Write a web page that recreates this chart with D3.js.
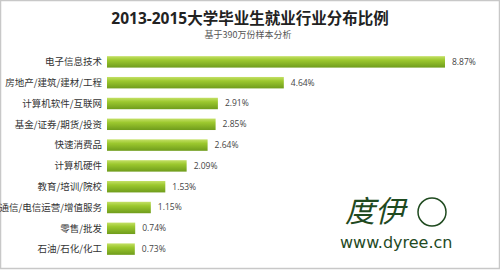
<!DOCTYPE html>
<html>
<head>
<meta charset="utf-8">
<script src="https://cdn.jsdelivr.net/npm/d3@7"></script>
<style>
  body { margin: 0; background: #fff; }
  svg { display: block; font-family: "Noto Sans CJK SC", "Noto Sans", sans-serif; }
</style>
</head>
<body>
<div id="chart"></div>
<script>
const categories = ["电子信息技术", "房地产/建筑/建材/工程", "计算机软件/互联网", "基金/证券/期货/投资",
  "快速消费品", "计算机硬件", "教育/培训/院校", "通信/电信运营/增值服务", "零售/批发", "石油/石化/化工"];
const values = [8.87, 4.64, 2.91, 2.85, 2.64, 2.09, 1.53, 1.15, 0.74, 0.73];
const title = "2013-2015大学毕业生就业行业分布比例";
const subtitle = "基于390万份样本分析";

const width = 500, height = 271;
const margin = {left: 107, right: 55, top: 52, bottom: 12};

const svg = d3.select("#chart").append("svg")
  .attr("width", width).attr("height", height);

// bar gradient
const grad = svg.append("defs").append("linearGradient")
  .attr("id", "barGrad").attr("x1", 0).attr("y1", 0).attr("x2", 0).attr("y2", 1);
grad.append("stop").attr("offset", "0%").attr("stop-color", "#c4e066");
grad.append("stop").attr("offset", "35%").attr("stop-color", "#9cc82e");
grad.append("stop").attr("offset", "100%").attr("stop-color", "#6f9c1c");

// frame
svg.append("rect").attr("x", 0.5).attr("y", 0.5)
  .attr("width", width - 1).attr("height", height - 3)
  .attr("fill", "none").attr("stroke", "#c8c8c8").attr("stroke-width", 1.5);

svg.append("text").attr("x", 250).attr("y", 24).attr("text-anchor", "middle")
  .attr("font-size", 15.5).attr("font-weight", "bold").attr("fill", "#222")
  .attr("font-family", "'Open Sans', 'Noto Sans CJK SC', sans-serif")
  .text(title);
svg.append("text").attr("x", 248).attr("y", 38).attr("text-anchor", "middle")
  .attr("font-size", 9).attr("fill", "#555").text(subtitle);

const x = d3.scaleLinear().domain([0, 8.87]).range([margin.left, 445]);
const y = d3.scaleBand().domain(categories)
  .range([margin.top, 259]).paddingInner(0.45).paddingOuter(0.2);

const g = svg.append("g");

g.selectAll("rect.bar").data(categories).enter().append("rect")
  .attr("class", "bar")
  .attr("x", x(0))
  .attr("y", d => y(d))
  .attr("width", (d, i) => x(values[i]) - x(0))
  .attr("height", y.bandwidth())
  .attr("fill", "url(#barGrad)");

g.selectAll("text.cat").data(categories).enter().append("text")
  .attr("class", "cat")
  .attr("x", 102)
  .attr("y", d => y(d) + y.bandwidth() / 2)
  .attr("dy", "0.35em")
  .attr("text-anchor", "end")
  .attr("font-size", 9.5).attr("fill", "#333")
  .text(d => d);

g.selectAll("text.val").data(categories).enter().append("text")
  .attr("class", "val")
  .attr("x", (d, i) => x(values[i]) + 7)
  .attr("y", d => y(d) + y.bandwidth() / 2)
  .attr("dy", "0.35em")
  .attr("font-size", 8.5).attr("fill", "#444")
  .attr("font-family", "'Open Sans', sans-serif")
  .text((d, i) => values[i].toFixed(2) + "%");

// watermark signature
svg.append("text").attr("x", 345).attr("y", 222)
  .attr("font-size", 30).attr("fill", "#1f4a1f")
  .attr("font-style", "italic")
  .text("度伊");
svg.append("circle").attr("cx", 432).attr("cy", 212).attr("r", 14)
  .attr("fill", "none").attr("stroke", "#1f4a1f").attr("stroke-width", 1.5);
svg.append("text").attr("x", 340).attr("y", 248)
  .attr("font-size", 16).attr("fill", "#1f4a1f")
  .attr("font-family", "'DejaVu Sans', sans-serif")
  .text("www.dyree.cn");
</script>
</body>
</html>
